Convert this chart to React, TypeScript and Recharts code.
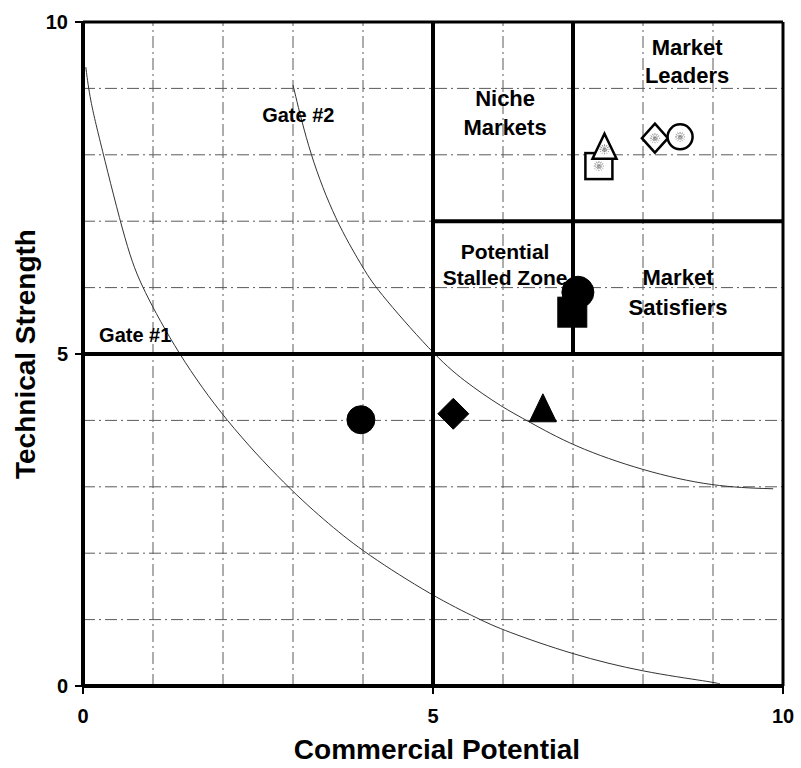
import React from 'react';
import {
  ComposedChart,
  XAxis,
  YAxis,
  Line,
  Scatter,
  ReferenceLine,
  ReferenceDot,
  Label,
} from 'recharts';

// ---------- data ----------
const axisTicks = [0, 5, 10];
const gridValues = [1, 2, 3, 4, 6, 7, 8, 9];

const gate1 = [
  { x: 0.04, y: 9.32 },
  { x: 0.1, y: 8.83 },
  { x: 0.24, y: 8.22 },
  { x: 0.63, y: 6.57 },
  { x: 0.84, y: 6.0 },
  { x: 1.36, y: 5.0 },
  { x: 2.03, y: 4.0 },
  { x: 2.91, y: 3.0 },
  { x: 3.53, y: 2.42 },
  { x: 4.03, y: 2.0 },
  { x: 5.0, y: 1.35 },
  { x: 5.67, y: 1.0 },
  { x: 6.0, y: 0.84 },
  { x: 7.0, y: 0.47 },
  { x: 8.0, y: 0.21 },
  { x: 9.0, y: 0.06 },
  { x: 9.1, y: 0.03 },
];

const gate2 = [
  { x: 3.0, y: 9.05 },
  { x: 3.24, y: 8.0 },
  { x: 3.61, y: 7.0 },
  { x: 4.0, y: 6.3 },
  { x: 4.17, y: 6.0 },
  { x: 5.0, y: 5.0 },
  { x: 5.43, y: 4.6 },
  { x: 6.0, y: 4.19 },
  { x: 6.34, y: 4.0 },
  { x: 7.0, y: 3.61 },
  { x: 8.0, y: 3.24 },
  { x: 9.0, y: 3.0 },
  { x: 9.86, y: 2.97 },
];

const filledCircles = [{ x: 3.97, y: 4.01 }];
const filledDiamonds = [{ x: 5.29, y: 4.1 }];
const filledTriangles = [{ x: 6.57, y: 4.19 }];
const filledSquares = [{ x: 6.99, y: 5.63 }];
const filledBigCircles = [{ x: 7.07, y: 5.93 }];
const openSquares = [{ x: 7.37, y: 7.83 }];
const openTriangles = [{ x: 7.45, y: 8.13 }];
const openDiamonds = [{ x: 8.17, y: 8.25 }];
const openCircles = [{ x: 8.53, y: 8.27 }];

const zoneLabels = [
  { x: 6.03, y: 8.73, lines: ['Niche', 'Markets'] },
  { x: 8.63, y: 9.5, lines: ['Market', 'Leaders'] },
  { x: 6.03, y: 6.43, lines: ['Potential', 'Stalled Zone'] },
  { x: 8.5, y: 6.04, lines: ['Market', 'Satisfiers'] },
];

const gateLabels = [
  { x: 2.56, y: 8.49, text: 'Gate #2' },
  { x: 0.23, y: 5.18, text: 'Gate #1' },
];

// ---------- styles ----------
const FONT = '"Liberation Sans", Arial, Helvetica, sans-serif';
const zoneStyle = [
  { size: 22, lh: 29 },
  { size: 22, lh: 28 },
  { size: 21, lh: 26 },
  { size: 22, lh: 30 },
];

const Speckle = ({ cx, cy }: { cx: number; cy: number }) => {
  const r = 5;
  const segs = [0, 30, 60, 90, 120, 150].map((a) => {
    const rad = (a * Math.PI) / 180;
    return (
      <line
        key={a}
        x1={cx - r * Math.cos(rad)}
        y1={cy - r * Math.sin(rad)}
        x2={cx + r * Math.cos(rad)}
        y2={cy + r * Math.sin(rad)}
        stroke="#8a8a8a"
        strokeWidth={1}
        strokeDasharray="2 1"
      />
    );
  });
  return <g>{segs}</g>;
};

const circleShape = (r: number, filled: boolean) => (p: any) => (
  <g>
    <circle
      cx={p.cx}
      cy={p.cy}
      r={r}
      fill={filled ? '#000' : '#fff'}
      stroke="#000"
      strokeWidth={filled ? 1 : 2.5}
    />
    {!filled && <Speckle cx={p.cx} cy={p.cy} />}
  </g>
);

const squareShape = (w: number, h: number, filled: boolean) => (p: any) => (
  <g>
    <rect
      x={p.cx - w / 2}
      y={p.cy - h / 2}
      width={w}
      height={h}
      fill={filled ? '#000' : '#fff'}
      stroke="#000"
      strokeWidth={filled ? 1 : 2.5}
    />
    {!filled && <Speckle cx={p.cx} cy={p.cy} />}
  </g>
);

const diamondShape = (hw: number, hh: number, filled: boolean) => (p: any) => (
  <g>
    <polygon
      points={`${p.cx},${p.cy - hh} ${p.cx + hw},${p.cy} ${p.cx},${p.cy + hh} ${p.cx - hw},${p.cy}`}
      fill={filled ? '#000' : '#fff'}
      stroke="#000"
      strokeWidth={filled ? 1 : 2.5}
    />
    {!filled && <Speckle cx={p.cx} cy={p.cy} />}
  </g>
);

const triangleShape = (w: number, h: number, filled: boolean) => (p: any) => (
  <g>
    <polygon
      points={`${p.cx},${p.cy - h / 2} ${p.cx + w / 2},${p.cy + h / 2} ${p.cx - w / 2},${p.cy + h / 2}`}
      fill={filled ? '#000' : '#fff'}
      stroke="#000"
      strokeWidth={filled ? 1 : 2.5}
    />
    {!filled && <Speckle cx={p.cx} cy={p.cy + h / 8} />}
  </g>
);

const zoneText = (lines: string[], size: number, lh: number) => (p: any) => (
  <text
    x={p.cx}
    y={p.cy}
    textAnchor="middle"
    fontSize={size}
    fontWeight="bold"
    fontFamily={FONT}
    fill="#000"
  >
    {lines.map((l, i) => (
      <tspan key={i} x={p.cx} dy={i === 0 ? 0 : lh}>
        {l}
      </tspan>
    ))}
  </text>
);

const gateText = (t: string) => (p: any) => (
  <text
    x={p.cx}
    y={p.cy}
    textAnchor="start"
    fontSize={20}
    fontWeight="bold"
    fontFamily={FONT}
    fill="#000"
  >
    {t}
  </text>
);

const TICK_STYLE = { fontSize: '20px', fontWeight: 700, fontFamily: FONT, fill: '#000' };

const renderXTick = (p: any) => (
  <text
    key={'xt' + p.index}
    x={p.x}
    y={p.y}
    dy="0.72em"
    textAnchor="middle"
    style={TICK_STYLE}
  >
    {p.payload.value}
  </text>
);

const renderYTick = (p: any) => (
  <text
    key={'yt' + p.index}
    x={p.x}
    y={p.y}
    dy="0.36em"
    textAnchor="end"
    style={TICK_STYLE}
  >
    {p.payload.value}
  </text>
);

const gridStroke = '#5a5a5a';
const gridDash = '12 4 2 4';

export default function App() {
  return (
    <div style={{ position: 'absolute', left: 0, top: 0, background: '#fff' }}>
      <ComposedChart
        width={801}
        height={768}
        margin={{ top: 22, right: 18, bottom: 0, left: 0 }}
      >
        <XAxis
          type="number"
          dataKey="x"
          domain={[0, 10]}
          ticks={axisTicks}
          allowDataOverflow
          height={82}
          tickSize={8}
          tickMargin={15}
          axisLine={{ stroke: '#000', strokeWidth: 4 }}
          tickLine={{ stroke: '#000', strokeWidth: 2 }}
          tick={renderXTick}
        >
          <Label
            content={(props: any) => {
              const vb = props.viewBox || { x: 83, y: 686, width: 700, height: 82 };
              return (
                <text
                  x={vb.x + vb.width / 2 + 4}
                  y={vb.y + 73}
                  textAnchor="middle"
                  fontSize={28}
                  fontWeight="bold"
                  fontFamily={FONT}
                  fill="#000"
                >
                  Commercial Potential
                </text>
              );
            }}
          />
        </XAxis>
        <YAxis
          type="number"
          dataKey="y"
          domain={[0, 10]}
          ticks={axisTicks}
          allowDataOverflow
          width={83}
          tickSize={8}
          tickMargin={7}
          axisLine={{ stroke: '#000', strokeWidth: 4 }}
          tickLine={{ stroke: '#000', strokeWidth: 2 }}
          tick={renderYTick}
        >
          <Label
            content={(props: any) => {
              const vb = props.viewBox || { x: 0, y: 22, width: 83, height: 664 };
              const cx = 35;
              const cy = vb.y + vb.height / 2;
              return (
                <text
                  x={cx}
                  y={cy}
                  transform={`rotate(-90 ${cx} ${cy})`}
                  textAnchor="middle"
                  fontSize={28}
                  fontWeight="bold"
                  fontFamily={FONT}
                  fill="#000"
                >
                  Technical Strength
                </text>
              );
            }}
          />
        </YAxis>

        {gridValues.map((v) => (
          <ReferenceLine
            key={'gx' + v}
            x={v}
            stroke={gridStroke}
            strokeWidth={1}
            strokeDasharray={gridDash}
          />
        ))}
        {gridValues.map((v) => (
          <ReferenceLine
            key={'gy' + v}
            y={v}
            stroke={gridStroke}
            strokeWidth={1}
            strokeDasharray={gridDash}
          />
        ))}

        <Line
          data={gate1}
          dataKey="y"
          type="basis"
          stroke="#333"
          strokeWidth={1}
          dot={false}
          activeDot={false}
          isAnimationActive={false}
        />
        <Line
          data={gate2}
          dataKey="y"
          type="basis"
          stroke="#333"
          strokeWidth={1}
          dot={false}
          activeDot={false}
          isAnimationActive={false}
        />

        <ReferenceLine y={10} stroke="#000" strokeWidth={3} />
        <ReferenceLine x={10} stroke="#000" strokeWidth={3} />
        <ReferenceLine x={5} stroke="#000" strokeWidth={4} />
        <ReferenceLine y={5} stroke="#000" strokeWidth={4} />
        <ReferenceLine
          segment={[
            { x: 7, y: 5 },
            { x: 7, y: 10 },
          ]}
          stroke="#000"
          strokeWidth={4}
        />
        <ReferenceLine
          segment={[
            { x: 5, y: 7 },
            { x: 10, y: 7 },
          ]}
          stroke="#000"
          strokeWidth={4}
        />

        <Scatter data={filledCircles} shape={circleShape(14, true)} isAnimationActive={false} />
        <Scatter data={filledDiamonds} shape={diamondShape(15.5, 15.5, true)} isAnimationActive={false} />
        <Scatter data={filledTriangles} shape={triangleShape(27, 28, true)} isAnimationActive={false} />
        <Scatter data={filledSquares} shape={squareShape(29, 30, true)} isAnimationActive={false} />
        <Scatter data={filledBigCircles} shape={circleShape(16, true)} isAnimationActive={false} />
        <Scatter data={openSquares} shape={squareShape(27, 26, false)} isAnimationActive={false} />
        <Scatter data={openTriangles} shape={triangleShape(24, 25, false)} isAnimationActive={false} />
        <Scatter data={openDiamonds} shape={diamondShape(13, 14.5, false)} isAnimationActive={false} />
        <Scatter data={openCircles} shape={circleShape(12.5, false)} isAnimationActive={false} />

        {zoneLabels.map((z, i) => (
          <ReferenceDot
            key={'z' + i}
            x={z.x}
            y={z.y}
            r={1}
            ifOverflow="visible"
            shape={zoneText(z.lines, zoneStyle[i].size, zoneStyle[i].lh)}
          />
        ))}
        {gateLabels.map((g, i) => (
          <ReferenceDot
            key={'g' + i}
            x={g.x}
            y={g.y}
            r={1}
            ifOverflow="visible"
            shape={gateText(g.text)}
          />
        ))}
      </ComposedChart>
    </div>
  );
}
